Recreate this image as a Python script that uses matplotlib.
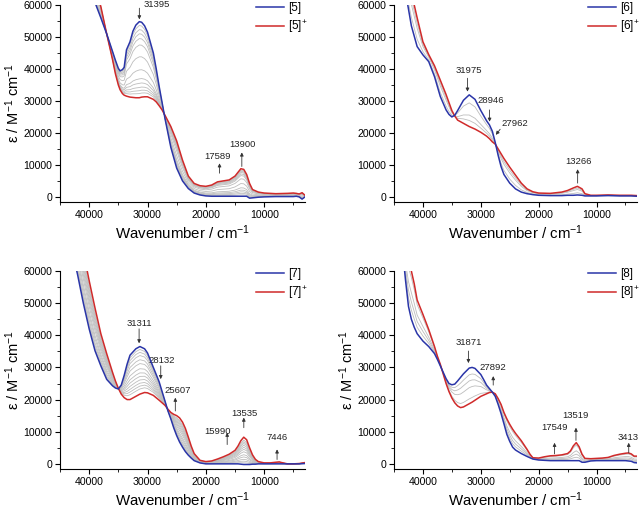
import matplotlib
matplotlib.use('Agg')
import matplotlib.pyplot as plt
import numpy as np

plt.rcParams['font.family'] = ['Liberation Sans', 'DejaVu Sans']
plt.rcParams['mathtext.fontset'] = 'custom'
plt.rcParams['mathtext.rm'] = 'Liberation Sans'
plt.rcParams['mathtext.it'] = 'Liberation Sans:italic'

# ---- data (wavenumber in cm-1, epsilon in M-1 cm-1) ----
wn5 = [40000, 39000, 38000, 37000, 36000, 35500, 35000, 34700, 34300, 34000, 33600, 33000, 32500, 32000,
       31400, 31000, 30500, 30000, 29000, 28500, 28000, 27500, 27000, 26000, 25000, 24000, 23000, 22000,
       21000, 20000, 19000, 18000, 17000, 16000, 15000, 14000, 13500, 13000, 12500, 12000, 11000, 10000,
       8000, 6000, 5000, 4500, 4000, 3500, 3000]
blue5 = [70000, 60800, 56000, 51000, 45500, 42700, 40200, 39400, 39800, 40500, 46000, 48500, 51800, 53700,
         54800, 54600, 53500, 51500, 45000, 40000, 34500, 29500, 24500, 15500, 9000, 5000, 2600, 1200,
         600, 300, 200, 200, 200, 200, 200, 200, 200, 200, -400, -300, -100, 0,
         100, 100, 100, 200, 0, -700, 0]
red5 = [72000, 66000, 59500, 51000, 43000, 38500, 35000, 33500, 32300, 31800, 31500, 31200, 31100, 31000,
        31000, 31200, 31300, 31300, 30500, 29700, 28500, 27200, 25500, 22000, 17500, 11500, 6500, 4200,
        3500, 3300, 3700, 4700, 5000, 5300, 6500, 8800, 8600, 7000, 4200, 2300, 1500, 1200,
        1000, 1100, 1200, 1100, 900, 1300, 500]
gray5_peak = [53600, 52300, 51000, 49500, 47500, 43800, 39700, 36900, 35500, 34200, 33200, 32300]
peak5 = 31400

wn6 = [43500, 43000, 42000, 41000, 40000, 39000, 38000, 37000, 36000, 35500, 35000, 34500, 34000, 33000,
       32000, 31000, 30000, 29000, 28500, 28000, 27500, 27000, 26500, 26000, 25000, 24000, 23000, 22000,
       21000, 20000, 18000, 16000, 15000, 14000, 13300, 12500, 12000, 11000, 10000, 8000, 6000, 4000, 3000]
blue6 = [69000, 64000, 53500, 47000, 44400, 42300, 37600, 31400, 27200, 25800, 25000, 25500, 27000, 30200,
         31900, 30500, 27000, 23800, 22500, 20500, 17000, 13000, 9500, 7000, 4300, 2500, 1500, 1000,
         700, 500, 400, 400, 500, 500, 600, 500, 300, 300, 300, 400, 300, 300, 200]
red6 = [72000, 69000, 64000, 56000, 48500, 44500, 41000, 36500, 32000, 29500, 27000, 25300, 24000, 23000,
        22000, 21200, 20200, 19000, 18200, 17200, 16500, 15000, 13500, 12000, 9300, 6800, 4300, 2500,
        1600, 1200, 1100, 1500, 2000, 2800, 3300, 2500, 1000, 500, 500, 600, 500, 500, 400]
gray6_peak = [29400, 25600, 23900]
peak6 = 32000

wn7 = [42500, 42000, 41000, 40000, 39000, 38000, 37000, 36000, 35500, 35000, 34500, 34000, 33500, 33000,
       32000, 31300, 30500, 30000, 29000, 28000, 27500, 27000, 26500, 26000, 25500, 25000, 24500, 24000,
       23500, 23000, 22500, 22000, 21000, 20000, 19000, 18000, 17000, 16000, 15000, 14500, 14000, 13500,
       13000, 12500, 12000, 11500, 11000, 10000, 9000, 8000, 7400, 7000, 6000, 5000, 4000, 3000]
blue7 = [63000, 59000, 50000, 42000, 35200, 30500, 26300, 24300, 23600, 23300, 24500, 27500, 31000, 33800,
         35800, 36500, 35800, 34500, 30000, 25500, 22500, 19500, 16500, 14000, 11200, 8800, 6800, 5200,
         3800, 2700, 1800, 1000, 300, 0, 0, 0, 0, 0, 0, 0, -100, -200,
         -200, -200, -100, -100, 0, 0, 0, 0, 0, 0, 0, 0, 0, 100]
red7 = [80000, 75000, 66000, 57000, 48500, 40500, 34300, 28500, 25800, 23500, 21700, 20600, 20000, 20000,
        21000, 21700, 22200, 22100, 21300, 19800, 19000, 18200, 17000, 16000, 15400, 15000, 14300, 13000,
        11000, 8300, 5500, 3200, 1100, 700, 900, 1500, 2200, 3000, 4200, 5500, 7200, 8300,
        7500, 5000, 2800, 1400, 700, 300, 300, 500, 600, 400, 0, 0, 100, 400]
gray7_peak = [35600, 34700, 33700, 32400, 31200, 29600, 28300, 27200, 26100, 25100, 24200, 23300]
peak7 = 31300

wn8 = [44000, 43500, 43000, 42500, 42000, 41500, 41000, 40000, 39000, 38000, 37500, 37000, 36500, 36000,
       35500, 35000, 34500, 34000, 33500, 33000, 32000, 31500, 31000, 30000, 29500, 29000, 28500, 28000,
       27500, 27000, 26500, 26000, 25500, 25000, 24500, 24000, 23000, 22000, 21500, 21000, 20000, 19000,
       18000, 17000, 16000, 15000, 14500, 14000, 13500, 13000, 12500, 12000, 11000, 10000, 9000, 8000,
       7000, 6000, 5000, 4500, 4000, 3500, 3000]
blue8 = [72000, 66000, 57000, 49000, 45000, 42500, 40500, 38200, 36500, 34300, 32500, 30500, 28500, 26500,
         25000, 24600, 24800, 25800, 26900, 28000, 29800, 30000, 29700, 27800, 26200, 24500, 23400, 22300,
         21000, 18500, 15700, 12500, 9200, 7000, 5200, 4300, 3200, 2300, 1900, 1500, 1200, 1100,
         1000, 1000, 1000, 1000, 1000, 1000, 1000, 1000, 500, 500, 900, 1000, 1000, 1000,
         1000, 1000, 1000, 900, 800, 400, 300]
red8 = [76000, 71000, 67000, 63000, 60000, 56000, 51000, 46500, 41800, 36500, 33500, 31000, 28000, 25000,
        22500, 20500, 19000, 18000, 17500, 17700, 18700, 19200, 19800, 21000, 21400, 21800, 22200, 22300,
        21800, 20300, 18500, 16000, 14000, 12300, 10800, 9500, 7200, 4500, 3000, 1900, 1800, 2200,
        2500, 2600, 2800, 3200, 4000, 5600, 6600, 5300, 3000, 1700, 1600, 1700, 1800, 2000,
        2600, 3000, 3300, 3400, 3100, 2400, 2400]
gray8_peak = [27700, 25800, 23700, 20200]
peak8 = 32000

names = ['5', '6', '7', '8']
wns = [wn5, wn6, wn7, wn8]
blues = [blue5, blue6, blue7, blue8]
reds = [red5, red6, red7, red8]
gray_peaks = [gray5_peak, gray6_peak, gray7_peak, gray8_peak]
peaks = [peak5, peak6, peak7, peak8]

# band labels: (label, arrow x, arrow tail y, arrow head y, text x, text y)
marks5 = [(31395, 31395, 59000, 55500, 28400, 60200),
          (17589, 17650, 7400, 10500, 17930, 12600),
          (13900, 13830, 9500, 13900, 13660, 16250)]
marks6 = [(31975, 32300, 37100, 32900, 32070, 39400),
          (28946, 28480, 27200, 23500, 28250, 30100),
          (27962, (26650, 27400), 21150, 19400, 24100, 22800),
          (13266, 13260, 4300, 8650, 13100, 11000)]
marks7 = [(31311, 31440, 42000, 37500, 31320, 43750),
          (28132, 27730, 30500, 26350, 27620, 32300),
          (25607, 25230, 16450, 20600, 24770, 22900),
          (15990, 16340, 6000, 9700, 17930, 10200),
          (13535, 13490, 11250, 14400, 13380, 15600),
          (7446, 7790, 1350, 4500, 7850, 8100)]
marks8 = [(31871, 32140, 35100, 31350, 32140, 37900),
          (27892, 27850, 24500, 27300, 27850, 30100),
          (17549, 17250, 3100, 6560, 17250, 11250),
          (13519, 13550, 7300, 11250, 13660, 14900),
          (3413, 4430, 3400, 6560, 4540, 8300)]
marks = [marks5, marks6, marks7, marks8]

# axes rectangles in pixels (left, top, width, height)
W, H = 642, 508
rects = [(60, 5, 245, 197), (394, 5, 243, 197), (60, 271, 245, 198), (394, 271, 243, 198)]
ylab = [True, False, True, True]

fig = plt.figure(figsize=(W / 100, H / 100), dpi=100)
blue_c = '#2a35a8'
red_c = '#d02a2a'
for i in range(4):
    x0, y0, w, h = rects[i]
    ax = fig.add_axes([x0 / W, 1 - (y0 + h) / H, w / W, h / H])
    wn = np.array(wns[i])
    b = np.array(blues[i], dtype=float)
    r = np.array(reds[i], dtype=float)
    k = wns[i].index(peaks[i])
    for g in gray_peaks[i]:
        f = (b[k] - g) / (b[k] - r[k])
        ax.plot(wn, b + f * (r - b), color='#bdbdbd', lw=0.6)
    ax.plot(wn, b, color=blue_c, lw=1.1, label='[%s]' % names[i], zorder=4)
    ax.plot(wn, r, color=red_c, lw=1.1, label='[%s]$^{+}$' % names[i], zorder=3)
    h_, l_ = ax.get_legend_handles_labels()
    ax.legend(h_, l_, loc='upper right', frameon=False, fontsize=8.5, handlelength=2.4,
              handletextpad=0.3, borderaxespad=0, labelspacing=0.35,
              bbox_to_anchor=(1.03, 1.04))

    for lab, axx, yt, yh, tx, ty in marks[i]:
        if isinstance(axx, tuple):
            xt, xh = axx
        else:
            xt = xh = axx
        ax.annotate('', xy=(xh, yh), xytext=(xt, yt),
                    arrowprops=dict(arrowstyle='-|>', color='#333333', lw=0.6,
                                    mutation_scale=5, shrinkA=0, shrinkB=0),
                    annotation_clip=False)
        ax.text(tx, ty, str(lab), fontsize=6.8, color='#222222', ha='center', va='center',
                clip_on=False)

    ax.set_xlim(45000, 3000)
    ax.set_ylim(-1600, 60000)
    ax.set_xticks([40000, 30000, 20000, 10000])
    ax.set_xticks(np.arange(5000, 45001, 10000), minor=True)
    ax.set_yticks(np.arange(0, 60001, 10000))
    ax.set_yticks(np.arange(5000, 60000, 10000), minor=True)
    ax.spines['top'].set_visible(False)
    ax.spines['right'].set_visible(False)
    ax.tick_params(which='major', direction='out', length=3.5, width=0.8, labelsize=7.6, pad=2)
    ax.tick_params(which='minor', direction='out', length=2, width=0.6)
    ax.set_xlabel('Wavenumber / cm$^{-1}$', fontsize=10.8, labelpad=3)
    if ylab[i]:
        ax.set_ylabel('ε / M$^{-1}$ cm$^{-1}$', fontsize=10.5, labelpad=1)

fig.savefig('out.png', dpi=100)
